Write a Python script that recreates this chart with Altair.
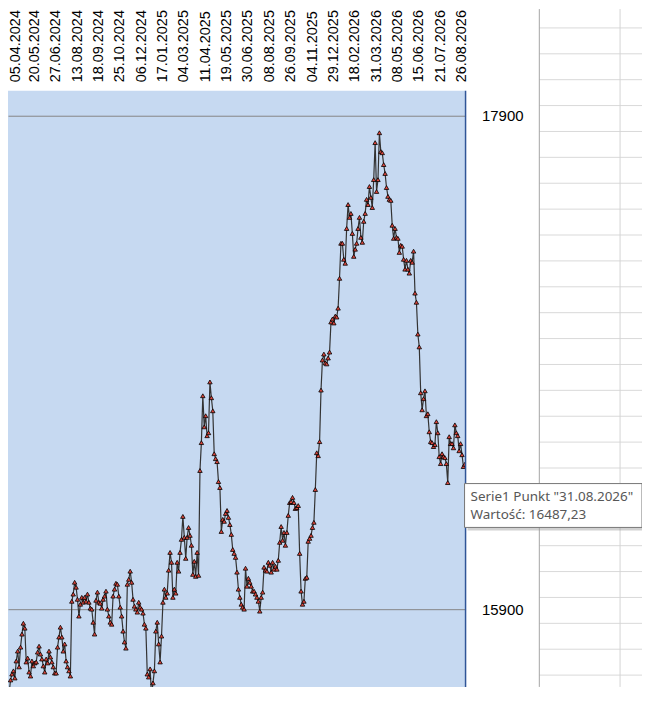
import altair as alt
import pandas as pd

# ---- data -----------------------------------------------------------------
series_name = "Serie1"
last_date = "31.08.2026"

values = [
    15548, 15552, 15540, 15548, 15536, 15561, 15613, 15637, 15650, 15621,
    15690, 15730, 15666, 15746, 15799, 15843, 15823, 15686, 15702, 15645,
    15629, 15690, 15670, 15682, 15686, 15726, 15750, 15718, 15698, 15670,
    15645, 15698, 15682, 15730, 15706, 15686, 15666, 15641, 15641, 15746,
    15787, 15827, 15787, 15730, 15759, 15690, 15666, 15650, 15629, 15932,
    15961, 16009, 15989, 15940, 15872, 15920, 15948, 15928, 15948,
    15932, 15961, 15928, 15904, 15900, 15847, 15799, 15936, 15969, 15928,
    15924, 15904, 15940, 15953, 15973, 15900, 15872, 15847, 15839, 15953,
    15981, 16005, 16001, 15953, 15908, 15872, 15811, 15767, 15742, 16001,
    16021, 16054, 16009, 15940, 15912, 15900, 15888, 15928, 15908, 15900,
    15884, 15839, 15823, 15637, 15625, 15658, 15548, 15601, 15650,
    15811, 15847, 15759, 15686, 15791, 15928, 15981, 15948, 15965, 16058,
    16130, 16090, 15948, 15981, 15965, 16090, 16054, 16130, 16183, 16276,
    16191, 16106, 16191, 16231, 16199, 16159, 16041, 16094, 16033, 16130,
    16037, 16462, 16575, 16765, 16639, 16684, 16603, 16615, 16821, 16757,
    16704, 16530, 16510, 16498, 16417, 16393, 16215, 16264, 16256, 16288,
    16300, 16272, 16243, 16203, 16142, 16126, 16110, 16050, 15981,
    15948, 15920, 15908, 15900, 16066, 15993, 16025, 16009, 15993, 15973,
    15973, 15961, 15948, 15932, 15892, 15948, 15969, 16070, 16058, 16054,
    16090, 16078, 16050, 16090, 16062, 16074, 16062, 16098, 16171, 16235,
    16179, 16211, 16159, 16211, 16280, 16332, 16336, 16353, 16332,
    16308, 16312, 16320, 16126, 15973, 15920, 15932, 16025, 16029, 16175,
    16187, 16199, 16231, 16252, 16385, 16534, 16522, 16579, 16788, 16910,
    16934, 16898, 16894, 16918, 16942, 17064, 17076, 17060, 17088, 17084,
    17120, 17241, 17383, 17383, 17318, 17302, 17443, 17540, 17488, 17504,
    17423, 17330, 17359, 17383, 17443, 17488, 17407, 17387, 17472,
    17504, 17561, 17540, 17613, 17569, 17528, 17641, 17791, 17593, 17641,
    17831, 17755, 17750, 17702, 17666, 17609, 17573, 17561, 17557, 17456,
    17403, 17443, 17407, 17403, 17346, 17375, 17371, 17318, 17278, 17314,
    17278, 17262, 17314, 17306, 17351, 17181, 17144, 17015, 16963,
    16777, 16708, 16753, 16785, 16684, 16692, 16619, 16579, 16575, 16559,
    16567, 16660, 16615, 16518, 16490, 16530, 16518, 16514, 16490, 16413,
    16599, 16571, 16571, 16554, 16647, 16615, 16603, 16542, 16571, 16526,
    16478, 16487.23,
]

tick_labels = [
    "05.04.2024", "20.05.2024", "27.06.2024", "13.08.2024", "18.09.2024",
    "25.10.2024", "06.12.2024", "17.01.2025", "04.03.2025", "11.04.2025",
    "19.05.2025", "30.06.2025", "08.08.2025", "26.09.2025", "04.11.2025",
    "29.12.2025", "18.02.2026", "31.03.2026", "08.05.2026", "15.06.2026",
    "21.07.2026", "26.08.2026",
]
first_label_point = 7      # category index of the first shown label
points_per_label = 15      # label interval of the category axis
y_ticks = [15900, 17900]

# ---- table -----------------------------------------------------------------
df = pd.DataFrame({"i": list(range(len(values))), "v": values})
tick_pos = [first_label_point + k * points_per_label for k in range(len(tick_labels))]
label_array = "[" + ",".join("'" + t + "'" for t in tick_labels) + "]"
label_expr = f"{label_array}[round((datum.value - {first_label_point}) / {points_per_label})]"

W, H = 459, 598
X_DOM = [4.2, 325.5]
Y_DOM = [15584.8, 18001.0]

FONT = "Liberation Sans"

x_enc = alt.X(
    "i:Q",
    scale=alt.Scale(domain=X_DOM, nice=False, zero=False),
    axis=alt.Axis(
        orient="top", values=tick_pos, labelExpr=label_expr, labelAngle=270,
        labelAlign="left", labelBaseline="middle", labelPadding=9,
        labelOffset={"condition": {"test": f"datum.value == {first_label_point}", "value": 4},
                     "value": 1},
        ticks=False, domain=False, grid=False, labelOverlap=False,
        labelFont=FONT, labelFontSize=14.5, labelColor="#000000", title=None,
    ),
)
y_enc = alt.Y(
    "v:Q",
    scale=alt.Scale(domain=Y_DOM, nice=False, zero=False),
    axis=alt.Axis(
        orient="right", values=y_ticks, format="d", grid=True,
        gridColor="#868686", gridWidth=1, ticks=False, domain=False,
        labelPadding=16, labelFont=FONT, labelFontSize=15,
        labelColor="#000000", labelAlign="left", labelBaseline="middle",
        title=None,
    ),
)

line = alt.Chart(df).mark_line(color="#333333", strokeWidth=1.2, clip=True).encode(
    x=x_enc, y=y_enc
)
pts = alt.Chart(df).mark_point(
    shape="triangle-up", filled=True, fill="#E0463C", stroke="#000000",
    strokeWidth=0.8, size=20, opacity=1, clip=True,
).encode(x=x_enc, y=y_enc)

one = pd.DataFrame({"a": [0]})


def vrule(x, y1, y2, color, w):
    return alt.Chart(one).mark_rule(color=color, strokeWidth=w).encode(
        x=alt.value(x), y=alt.value(y1), y2=alt.value(y2)
    )


def hrule(y, x1, x2, color, w):
    return alt.Chart(one).mark_rule(color=color, strokeWidth=w).encode(
        y=alt.value(y), x=alt.value(x1), x2=alt.value(x2)
    )


deco = []
# spreadsheet cells to the right of the chart
for k in range(26):
    yy = 26.9 + 25.97 * k - 90
    if -82 <= yy <= H:
        deco.append(hrule(yy, 533, 640, "#d9d9d9", 1))
deco.append(vrule(614, -82, H, "#d4d4d4", 1))
deco.append(vrule(533, -82, H, "#a6a6a6", 1))
# plot-area border on the right
deco.append(vrule(459, 0, H, "#2F5597", 1.5))

# hover tooltip box
shadow = alt.Chart(one).mark_rect(fill="#9a9a9a", opacity=0.45).encode(
    x=alt.value(461), x2=alt.value(639), y=alt.value(397), y2=alt.value(441)
)
box = alt.Chart(one).mark_rect(fill="#ffffff", stroke="#767676", strokeWidth=1).encode(
    x=alt.value(458), x2=alt.value(636), y=alt.value(394), y2=alt.value(438)
)
last_val = f"{values[-1]:.2f}".replace(".", ",")
t1 = alt.Chart(one).mark_text(
    align="left", baseline="alphabetic", font="Noto Sans", fontSize=13.5, color="#575757"
).encode(x=alt.value(464), y=alt.value(411), text=alt.value(f'{series_name} Punkt "{last_date}"'))
t2 = alt.Chart(one).mark_text(
    align="left", baseline="alphabetic", font="Noto Sans", fontSize=13.5, color="#575757"
).encode(x=alt.value(464), y=alt.value(430), text=alt.value(f"Wartość: {last_val}"))

chart = alt.layer(line, pts, *deco, shadow, box, t1, t2).properties(
    width=W, height=H,
    autosize=alt.AutoSizeParams(type="none"),
    padding={"left": 0, "top": 82, "right": 177, "bottom": 0},
    background="#ffffff",
).configure_view(fill="#C6D9F1", stroke=None)

chart.save("out.html", embed_options={"renderer": "svg", "actions": False})
